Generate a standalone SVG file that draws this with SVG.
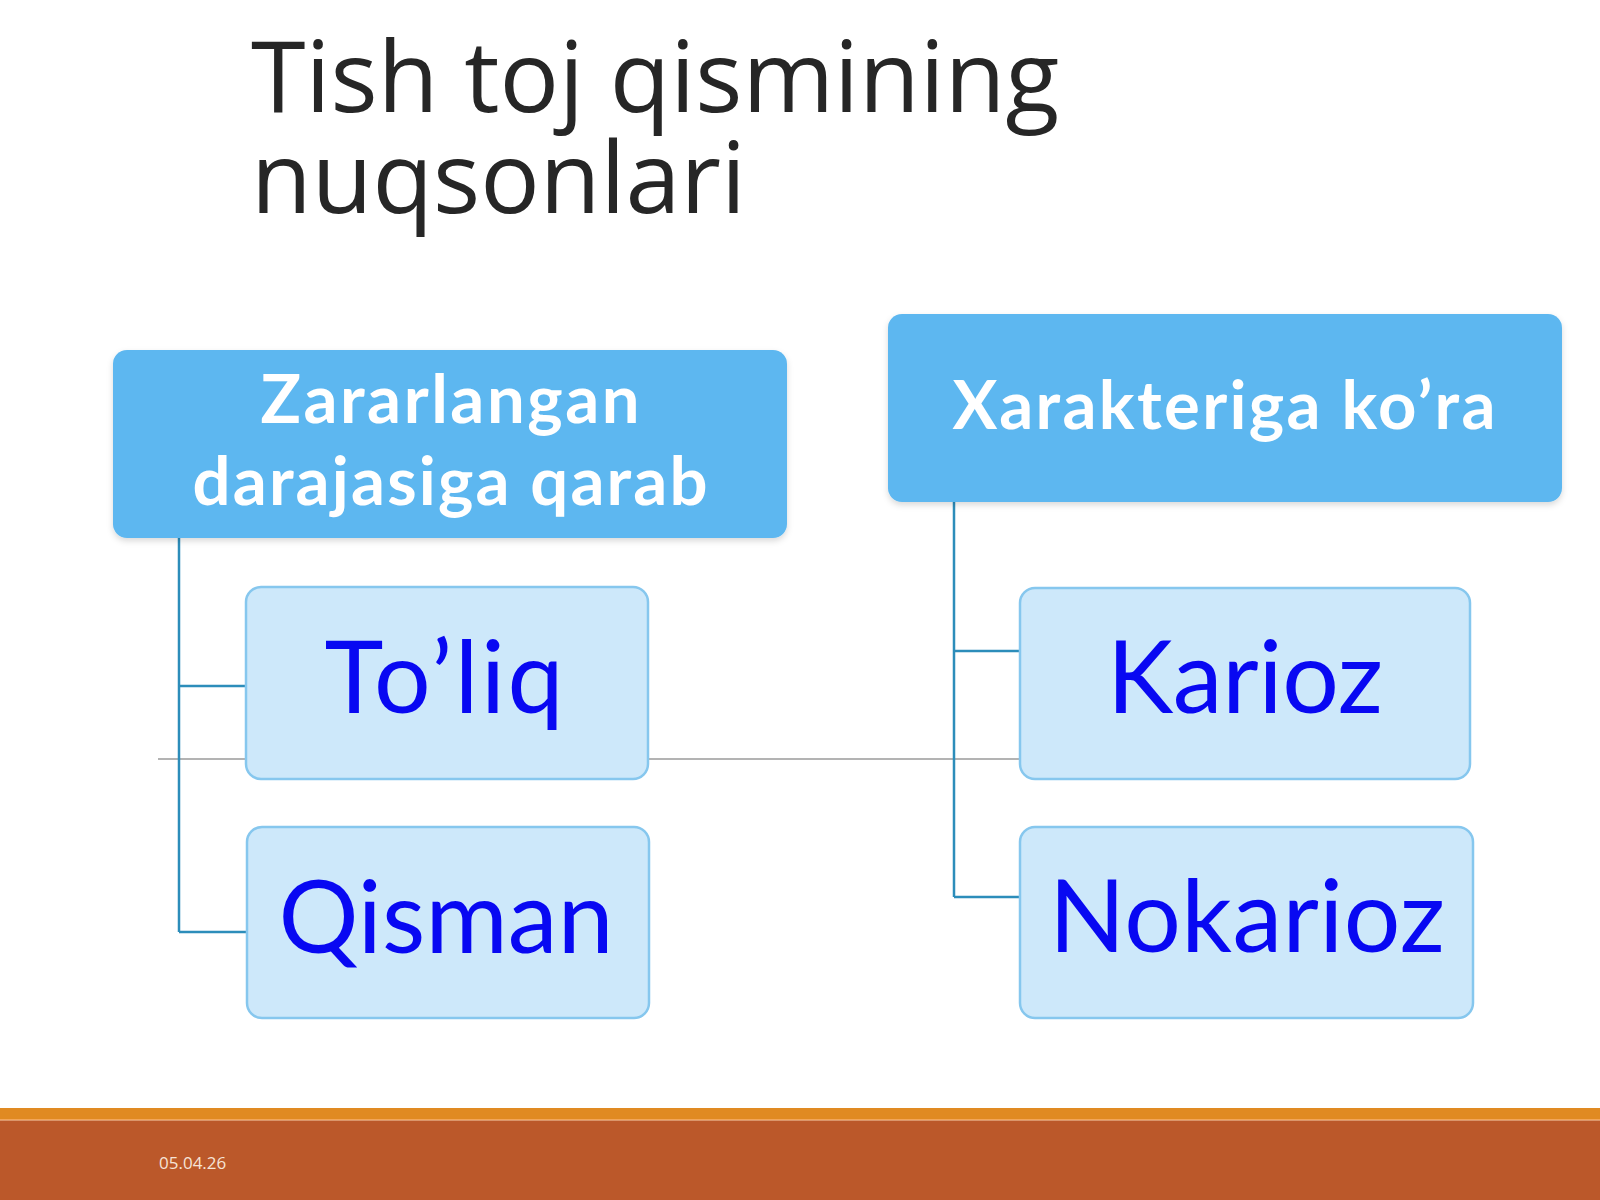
<svg xmlns="http://www.w3.org/2000/svg" width="1600" height="1200" viewBox="0 0 1600 1200">
<style>
.title{font-family:"Open Sans","Noto Sans",sans-serif;font-size:99px;fill:#262626}
.head{fill:#5DB7F0}
.headtxt{font-family:Lato,"Noto Sans",sans-serif;font-weight:bold;font-size:67px;fill:#ffffff;text-anchor:middle}
.child{fill:#CDE8FA;stroke:#86C7EE;stroke-width:2.5}
.childtxt{font-family:Lato,"Noto Sans",sans-serif;font-size:100px;fill:#0808F2;text-anchor:middle}
.conn{stroke:#2C8DBA;stroke-width:2.5;fill:none}
</style>
<defs>
<filter id="sh" x="-5%" y="-5%" width="110%" height="115%">
<feDropShadow dx="0" dy="3" stdDeviation="3" flood-color="#000" flood-opacity="0.15"/>
</filter>
</defs>
<rect width="1600" height="1200" fill="#ffffff"/>
<g id="title">
<text class="title" x="251" y="112">Tish toj qismining</text>
<text class="title" x="251" y="213">nuqsonlari</text>
</g>
<line x1="158" y1="759" x2="1020" y2="759" stroke="#9a9a9a" stroke-width="1.5"/>
<g id="connectors">
<path class="conn" d="M179 538 V932 M179 686 H246 M179 932 H247"/>
<path class="conn" d="M954 502 V897 M954 651 H1020 M954 897 H1020"/>
</g>
<g id="node-zararlangan">
<rect class="head" x="113" y="350" width="674" height="188" rx="14" filter="url(#sh)"/>
<text class="headtxt" x="450" y="423" textLength="379">Zararlangan</text>
<text class="headtxt" x="450" y="505" textLength="515">darajasiga qarab</text>
</g>
<g id="node-xarakteriga">
<rect class="head" x="888" y="314" width="674" height="188" rx="14" filter="url(#sh)"/>
<text class="headtxt" x="1224" y="429" textLength="543">Xarakteriga ko’ra</text>
</g>
<g id="node-toliq">
<rect class="child" x="246" y="587" width="402" height="192" rx="15"/>
<text class="childtxt" x="444" y="713" textLength="239">To’liq</text>
</g>
<g id="node-qisman">
<rect class="child" x="247" y="827" width="402" height="191" rx="15"/>
<text class="childtxt" x="446" y="953" textLength="335">Qisman</text>
</g>
<g id="node-karioz">
<rect class="child" x="1020" y="588" width="450" height="191" rx="15"/>
<text class="childtxt" x="1245" y="713" textLength="276">Karioz</text>
</g>
<g id="node-nokarioz">
<rect class="child" x="1020" y="827" width="453" height="191" rx="15"/>
<text class="childtxt" x="1247" y="952" textLength="396">Nokarioz</text>
</g>
<g id="footer">
<rect x="0" y="1108" width="1600" height="12" fill="#E08A22"/>
<rect x="0" y="1119" width="1600" height="1.5" fill="#F2A65A"/>
<rect x="0" y="1120.5" width="1600" height="80" fill="#BB582A"/>
<text x="159" y="1169" font-family="'Open Sans','Noto Sans',sans-serif" font-size="17" fill="#F6E3D6">05.04.26</text>
</g>
</svg>
